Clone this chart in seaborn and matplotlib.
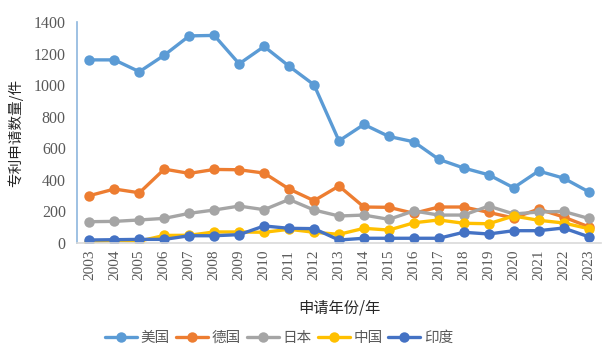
import matplotlib
matplotlib.use("Agg")
import matplotlib.pyplot as plt
import seaborn as sns
import pandas as pd

years = list(range(2003, 2024))
us = [1160, 1160, 1085, 1190, 1312, 1315, 1135, 1245, 1120, 1002, 647, 751, 675, 641, 530, 475, 432, 350, 456, 411, 325]
germany = [300, 342, 318, 468, 441, 466, 464, 443, 342, 268, 361, 228, 226, 188, 228, 228, 194, 158, 215, 165, 103]
japan = [135, 137, 146, 156, 188, 209, 234, 211, 276, 209, 171, 177, 150, 203, 177, 177, 234, 184, 196, 200, 156]
china = [8, 15, 12, 48, 49, 70, 70, 68, 87, 68, 55, 93, 82, 128, 146, 125, 122, 171, 144, 127, 91]
india = [19, 21, 23, 23, 46, 46, 53, 108, 93, 91, 19, 30, 30, 30, 30, 68, 57, 78, 78, 95, 40]
series_names = ["美国", "德国", "日本", "中国", "印度"]
colors = ["#5B9BD5", "#ED7D31", "#A5A5A5", "#FFC000", "#4472C4"]

rows = []
for name, vals in zip(series_names, [us, germany, japan, china, india]):
    for y, v in zip(years, vals):
        rows.append({"年份": y, "数量": v, "国家": name})
df = pd.DataFrame(rows)

sns.set_style("white")
plt.rcParams['font.family'] = ['Noto Sans CJK SC', 'DejaVu Sans']

fig = plt.figure(figsize=(6.11, 3.53), dpi=100)
ax = fig.add_axes([0.126, 0.3116, 0.9836 - 0.126, 0.9377 - 0.3116])

for name, col in zip(series_names, colors):
    sub = df[df["国家"] == name]
    sns.lineplot(data=sub, x="年份", y="数量", ax=ax, color=col, marker="o",
                 linewidth=2.4, markersize=7.5, markeredgewidth=0, label=name,
                 legend=False)

ax.set_xlim(2002.5, 2023.5)
ax.set_ylim(0, 1400)
ax.set_yticks(range(0, 1401, 200))
ax.set_xticks(years)
serif = ['Liberation Serif', 'DejaVu Serif']
ax.set_xticklabels([str(y) for y in years], rotation=90, family=serif, fontsize=11, color="#595959")
ax.set_yticklabels([str(v) for v in range(0, 1401, 200)], family=serif, fontsize=11.5, color="#595959")
ax.set_xticks([y + 0.5 for y in [2002] + years], minor=True)
ax.tick_params(axis='x', which='major', length=0, pad=5)
ax.tick_params(axis='x', which='minor', direction='in', length=7, color="#D9D9D9", width=1)
ax.tick_params(axis='y', which='major', direction='out', length=5, color="#8DB6DE", width=1.2, pad=3)

for s in ["top", "right"]:
    ax.spines[s].set_visible(False)
ax.spines["left"].set_color("#8DB6DE")
ax.spines["left"].set_linewidth(1.2)
ax.spines["bottom"].set_color("#D9D9D9")
ax.spines["bottom"].set_linewidth(1.2)
ax.grid(False)

ax.set_xlabel("申请年份/年", fontsize=11, color="#262626", labelpad=14)
ax.set_ylabel("专利申请数量/件", fontsize=10.5, color="#262626", labelpad=8)

handles, labels = ax.get_legend_handles_labels()
fig.legend(handles, labels, loc="center", bbox_to_anchor=(0.457, 1 - 338 / 353), ncol=5,
           frameon=False, fontsize=10.5, handlelength=2.2, columnspacing=0.4,
           handletextpad=0.25, labelcolor="#595959")

fig.savefig("out.png", dpi=100)
